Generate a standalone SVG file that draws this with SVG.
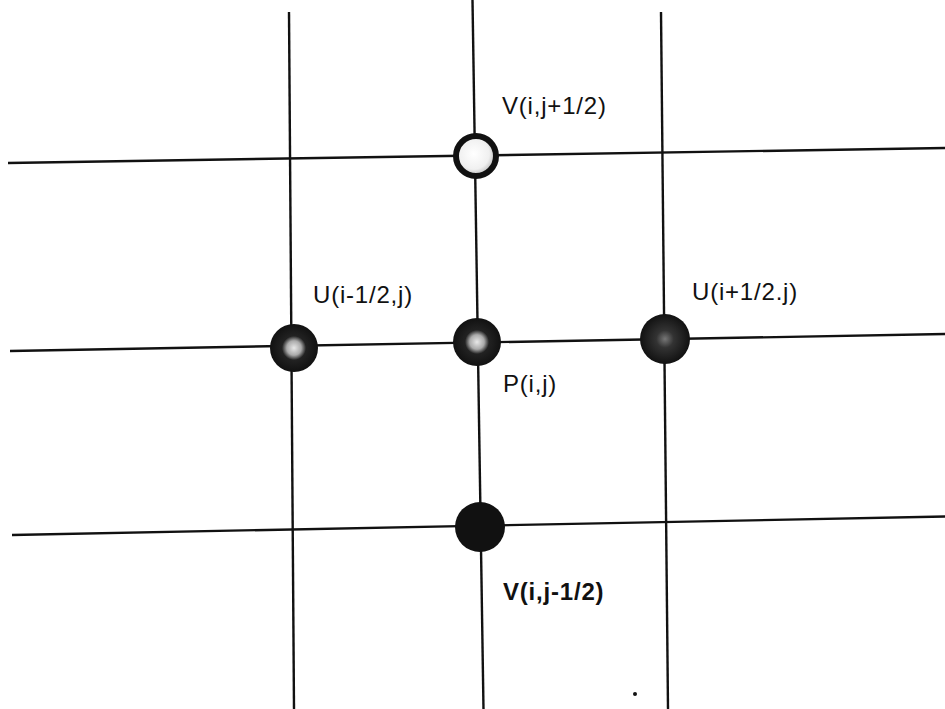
<svg xmlns="http://www.w3.org/2000/svg" width="945" height="709" viewBox="0 0 945 709">
<defs>
<style>
.ln{stroke:#111;stroke-width:2.4;fill:none}
.nd{fill:#111}
.lb{font-family:"Liberation Sans",Arial,sans-serif;font-size:24px;letter-spacing:0.8px;fill:#111}
</style>
<radialGradient id="gw" cx="0.45" cy="0.45" r="0.5"><stop offset="0" stop-color="#fff"/><stop offset="0.7" stop-color="#f0f0f0"/><stop offset="1" stop-color="#bbb"/></radialGradient>
<radialGradient id="gm" cx="0.5" cy="0.5" r="0.5"><stop offset="0" stop-color="#e8e8e8"/><stop offset="0.3" stop-color="#aaa"/><stop offset="0.5" stop-color="#222"/><stop offset="1" stop-color="#111"/></radialGradient>
<radialGradient id="gd" cx="0.5" cy="0.5" r="0.5"><stop offset="0" stop-color="#777"/><stop offset="0.35" stop-color="#333"/><stop offset="1" stop-color="#111"/></radialGradient>
</defs>
<rect width="945" height="709" fill="#fff"/>
<g id="connectors">
<line class="ln" x1="289" y1="12" x2="294" y2="709"/>
<line class="ln" x1="472.5" y1="0" x2="483.5" y2="709"/>
<line class="ln" x1="661" y1="12" x2="668" y2="709"/>
<line class="ln" x1="8" y1="163" x2="945" y2="148"/>
<line class="ln" x1="10" y1="351" x2="945" y2="334"/>
<line class="ln" x1="12" y1="535" x2="945" y2="516.5"/>
</g>
<g id="node-v-top">
<circle cx="476" cy="156" r="22" fill="url(#gw)"/>
<circle cx="476" cy="156" r="20" fill="none" stroke="#111" stroke-width="6"/>
<text class="lb" x="502" y="114">V(i,j+1/2)</text>
</g>
<g id="node-u-left">
<circle cx="294" cy="348" r="24" fill="url(#gm)"/>
<text class="lb" x="313" y="303">U(i-1/2,j)</text>
</g>
<g id="node-p">
<circle cx="477" cy="342" r="24" fill="url(#gm)"/>
<text class="lb" x="503" y="392">P(i,j)</text>
</g>
<g id="node-u-right">
<circle cx="665" cy="339" r="25" fill="url(#gd)"/>
<text class="lb" x="692" y="300">U(i+1/2.j)</text>
</g>
<g id="node-v-bottom">
<circle cx="480" cy="527" r="25" class="nd"/>
<text class="lb" x="503" y="600" font-weight="bold">V(i,j-1/2)</text>
</g>
<circle cx="635" cy="694" r="2" fill="#111"/>
</svg>
